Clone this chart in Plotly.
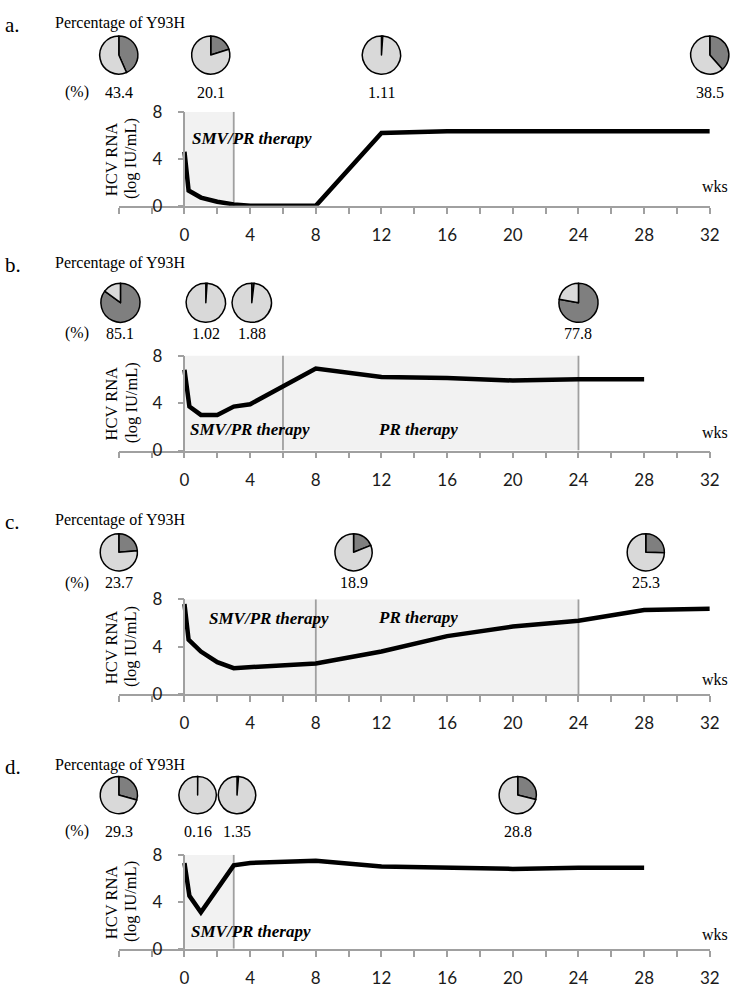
import plotly.graph_objects as go

W, H = 743, 994

# ---------------- data ----------------
WEEKS_A = [0, 0.25, 1, 2, 3, 4, 8, 12, 16, 20, 24, 28, 32]
RNA_A = [4.6, 1.3, 0.7, 0.35, 0.12, 0.0, 0.0, 6.2, 6.35, 6.35, 6.35, 6.35, 6.35]
WEEKS_B = [0, 0.3, 1, 2, 3, 4, 8, 12, 16, 20, 24, 28]
RNA_B = [6.8, 3.7, 3.0, 3.0, 3.7, 3.9, 6.9, 6.2, 6.1, 5.9, 6.0, 6.0]
WEEKS_C = [0, 0.25, 1, 2, 3, 8, 12, 16, 20, 24, 28, 32]
RNA_C = [7.6, 4.6, 3.6, 2.7, 2.2, 2.6, 3.6, 4.9, 5.7, 6.2, 7.1, 7.2]
WEEKS_D = [0, 0.3, 1, 3, 4, 8, 12, 20, 24, 28]
RNA_D = [7.3, 4.5, 3.1, 7.1, 7.3, 7.5, 7.0, 6.8, 6.9, 6.9]

PIE_WEEKS_A = [-4, 1.6, 12, 32]
Y93H_A = [43.4, 20.1, 1.11, 38.5]
PIE_WEEKS_B = [-3.9, 1.3, 4.1, 24]
Y93H_B = [85.1, 1.02, 1.88, 77.8]
PIE_WEEKS_C = [-4, 10.3, 28.1]
Y93H_C = [23.7, 18.9, 25.3]
PIE_WEEKS_D = [-4, 0.8, 3.2, 20.3]
Y93H_D = [29.3, 0.16, 1.35, 28.8]

# therapy periods: end of shaded region and boundary lines
SHADE_END = {"a": 3, "b": 24, "c": 24, "d": 3}
BOUNDS = {"a": [3], "b": [6, 24], "c": [8, 24], "d": [3]}
X_TICKS = list(range(-4, 33, 2))
Y_TICKS = [0, 4, 8]

# ---------------- layout constants (pixels) ----------------
X0PX = 187.0           # x = 0 weeks
PXW = 16.64            # pixels per week
XMIN, XMAX = -4, 32

PANELS = [
    dict(key="a", weeks=WEEKS_A, rna=RNA_A, pw=PIE_WEEKS_A, pv=Y93H_A,
         title_y=12, pie_y=45, pie_r=19.5, val_y=83, y8=103, y0=199, wks_y=179,
         labels=[("SMV/PR therapy", 0.36, 5.75)]),
    dict(key="b", weeks=WEEKS_B, rna=RNA_B, pw=PIE_WEEKS_B, pv=Y93H_B,
         title_y=257, pie_y=298, pie_r=20, val_y=329, y8=352, y0=449, wks_y=431,
         labels=[("SMV/PR therapy", 0.2, 1.8), ("PR therapy", 11.65, 1.8)]),
    dict(key="c", weeks=WEEKS_C, rna=RNA_C, pw=PIE_WEEKS_C, pv=Y93H_C,
         title_y=520, pie_y=553, pie_r=19, val_y=584, y8=601, y0=698, wks_y=683,
         labels=[("SMV/PR therapy", 1.4, 6.4), ("PR therapy", 11.65, 6.45)]),
    dict(key="d", weeks=WEEKS_D, rna=RNA_D, pw=PIE_WEEKS_D, pv=Y93H_D,
         title_y=770, pie_y=801, pie_r=19, val_y=838, y8=862, y0=958, wks_y=943,
         labels=[("SMV/PR therapy", 0.3, 1.5)]),
]

SERIF = "Liberation Serif, Times New Roman, serif"
SANS = "Lato, Open Sans, sans-serif"
AXIS_GREY = "#a0a0a0"
DARK = "#7f7f7f"
LIGHT = "#d9d9d9"


def px_x(p):
    return p / W


def px_y(p):
    return 1 - p / H


fig = go.Figure()
annotations = []
shapes = []
layout_axes = {}

for i, P in enumerate(PANELS):
    n = i + 1
    xs = "x" if n == 1 else f"x{n}"
    ys = "y" if n == 1 else f"y{n}"
    xa = "xaxis" if n == 1 else f"xaxis{n}"
    ya = "yaxis" if n == 1 else f"yaxis{n}"

    fig.add_trace(go.Scatter(x=P["weeks"], y=P["rna"], mode="lines",
                             line=dict(color="black", width=4.5),
                             xaxis=xs, yaxis=ys, hoverinfo="skip"))

    x_left = X0PX + XMIN * PXW
    x_right = X0PX + XMAX * PXW
    layout_axes[xa] = dict(
        domain=[px_x(x_left), px_x(x_right)], range=[XMIN, XMAX], anchor=ys,
        showline=True, linecolor=AXIS_GREY, linewidth=1.5, ticks="outside",
        ticklen=6, tickwidth=1.5, tickcolor=AXIS_GREY, tickvals=X_TICKS,
        ticktext=[str(v) if (v >= 0 and v % 4 == 0) else "" for v in X_TICKS],
        tickfont=dict(family=SANS, size=17, color="#1a1a1a"),
        ticklabelstandoff=7, showgrid=False, zeroline=False, fixedrange=True)
    layout_axes[ya] = dict(
        domain=[px_y(P["y0"]), px_y(P["y8"])], range=[0, 8], anchor="free",
        position=px_x(X0PX), showline=True, linecolor=AXIS_GREY, linewidth=1.5,
        ticks="outside", ticklen=6, tickwidth=1.5, tickcolor=AXIS_GREY,
        tickvals=Y_TICKS, tickfont=dict(family=SANS, size=17, color="#1a1a1a"),
        ticklabelstandoff=12, showgrid=False, zeroline=False, fixedrange=True)

    shapes.append(dict(type="rect", xref=xs, yref=ys, x0=0, x1=SHADE_END[P["key"]],
                       y0=0, y1=8, fillcolor="#f2f2f2", line=dict(width=0),
                       layer="below"))
    for b in BOUNDS[P["key"]]:
        shapes.append(dict(type="line", xref=xs, yref=ys, x0=b, x1=b, y0=0, y1=8,
                           line=dict(color=AXIS_GREY, width=1.8), layer="below"))

    for txt, lx, ly in P["labels"]:
        annotations.append(dict(text=f"<b><i>{txt}</i></b>", xref=xs, yref=ys,
                                x=lx, y=ly, xanchor="left", yanchor="middle",
                                showarrow=False,
                                font=dict(family=SERIF, size=17, color="black")))

    annotations.append(dict(text=f"{P['key']}.", xref="paper", yref="paper",
                            x=px_x(3), y=px_y(P["title_y"] + 2), xanchor="left",
                            yanchor="middle", showarrow=False,
                            font=dict(family=SERIF, size=21, color="black")))
    annotations.append(dict(text="Percentage of Y93H", xref="paper", yref="paper",
                            x=px_x(54), y=px_y(P["title_y"]), xanchor="left",
                            yanchor="middle", showarrow=False,
                            font=dict(family=SERIF, size=16, color="black")))
    annotations.append(dict(text="(%)", xref="paper", yref="paper",
                            x=px_x(78), y=px_y(P["val_y"]), xanchor="center",
                            yanchor="middle", showarrow=False,
                            font=dict(family=SERIF, size=16, color="black")))
    yc = (P["y0"] + P["y8"]) / 2
    annotations.append(dict(text="HCV RNA", xref="paper", yref="paper",
                            x=px_x(113), y=px_y(yc), textangle=-90,
                            xanchor="center", yanchor="middle", showarrow=False,
                            font=dict(family=SERIF, size=16.5, color="black")))
    annotations.append(dict(text="(log IU/mL)", xref="paper", yref="paper",
                            x=px_x(133), y=px_y(yc), textangle=-90,
                            xanchor="center", yanchor="middle", showarrow=False,
                            font=dict(family=SERIF, size=16.5, color="black")))
    annotations.append(dict(text="wks", xref="paper", yref="paper",
                            x=px_x(740), y=px_y(P["wks_y"]), xanchor="right",
                            yanchor="middle", showarrow=False,
                            font=dict(family=SERIF, size=16, color="black")))

    r = P["pie_r"]
    for wk, val in zip(P["pw"], P["pv"]):
        cx = X0PX + wk * PXW
        cy = P["pie_y"]
        fig.add_trace(go.Pie(values=[val, 100 - val], sort=False,
                             direction="clockwise", rotation=0,
                             marker=dict(colors=[DARK, LIGHT],
                                         line=dict(color="black", width=1.5)),
                             textinfo="none", hoverinfo="skip", showlegend=False,
                             domain=dict(x=[px_x(cx - r), px_x(cx + r)],
                                         y=[px_y(cy + r), px_y(cy - r)])))
        annotations.append(dict(text=f"{val:g}", xref="paper", yref="paper",
                                x=px_x(cx), y=px_y(P["val_y"]), xanchor="center",
                                yanchor="middle", showarrow=False,
                                font=dict(family=SERIF, size=16, color="black")))

fig.update_layout(width=W, height=H, margin=dict(l=0, r=0, t=0, b=0),
                  paper_bgcolor="white", plot_bgcolor="rgba(0,0,0,0)",
                  showlegend=False, annotations=annotations, shapes=shapes,
                  **layout_axes)

fig.write_html("out.html", config={"displayModeBar": False},
               post_script="document.body.style.margin='0';"
                           "document.body.style.overflow='hidden';"
                           "document.documentElement.style.overflow='hidden';")
